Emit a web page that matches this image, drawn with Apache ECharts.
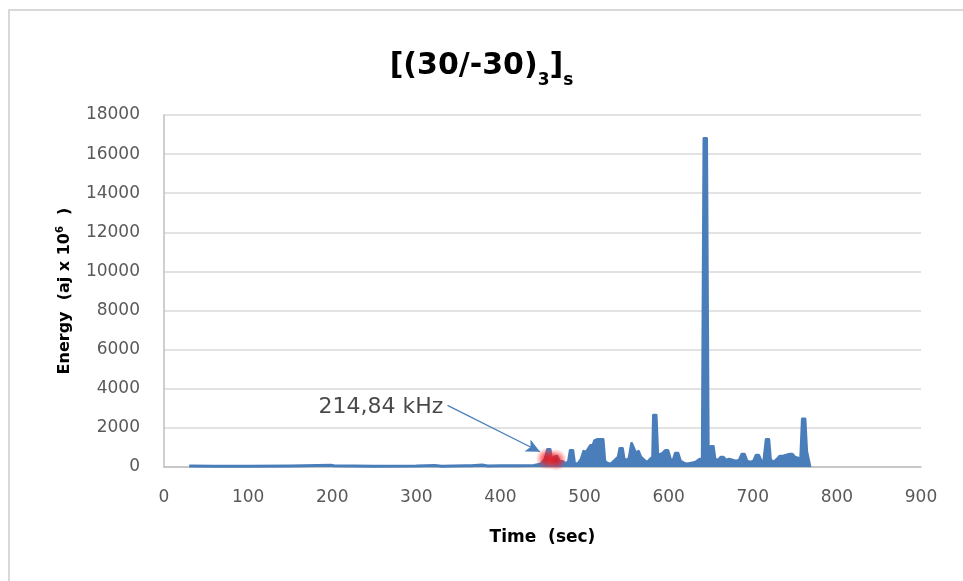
<!DOCTYPE html>
<html>
<head>
<meta charset="utf-8">
<script src="https://cdn.jsdelivr.net/npm/echarts@6/dist/echarts.min.js"></script>
<style>html,body{margin:0;padding:0;background:#fff;}#c{width:963px;height:581px;}</style>
</head>
<body>
<div id="c"></div>
<script>
// Time (sec)
var times = [30,60,100,150,198,202,250,300,322,330,358,365,378,385,400,420,440,448,
  453,456,459,461,464,467,470,474,478,481,483,486,488,492,496,499,502,504,507,510,512,515,519,522,524,527,531,535,540,542,545,547,550,553,556,558,561,564,567,569,572,575,578,581,582,585,587,590,593,596,599,602,605,608,611,614,618,622,627,632,637,640,642,645,647,650,653,655,659,662,665,668,672,676,680,684,687,690,693,697,701,704,707,710,713,716,719,721,725,729,732,736,740,744,747,750,754,757,759,762,764,766,768];
// Energy (aj x 10^6)
var energy = [50,40,40,50,90,60,40,50,80,40,70,60,100,50,60,70,80,150,
  400,900,900,300,500,550,300,280,150,300,850,850,200,150,400,800,750,850,1100,1100,1350,1400,1400,1400,300,200,150,300,500,950,950,400,350,450,1200,1200,700,800,500,600,300,250,400,500,2650,2650,600,650,700,850,850,400,300,700,700,300,200,150,200,250,400,400,16800,16800,900,1050,1050,400,350,500,500,350,400,350,300,350,650,650,300,250,300,600,600,300,250,1400,1400,350,250,400,550,550,600,650,650,500,450,400,2450,2450,800,800,0];
var xTicks = {min:0, max:900, interval:100};
var yTicks = {min:0, max:18000, interval:2000};
var glowPoints = [[455,420],[466,360]];
var annotationText = '214,84 kHz';
var annotationPos = [258,3067];
var arrowStart = [337,3150];
var arrowEnd = [447,780];

var seriesData = times.map(function(t,i){return [t, energy[i]];});

var chart = echarts.init(document.getElementById('c'), null, {renderer:'canvas'});
var tickFont = {fontFamily:'DejaVu Sans', fontSize:17, color:'#595959'};
chart.setOption({
  backgroundColor:'#fff',
  animation:false,
  graphic:[{type:'rect', shape:{x:9,y:10,width:1000,height:620}, style:{fill:'none', stroke:'#d9d9d9', lineWidth:2}, silent:true}],
  title:{
    left:'center', top:36,
    text:'{a|[(30/-30)}{sub|3}{a|]}{sub|s}',
    textStyle:{rich:{
      a:{fontFamily:'DejaVu Sans', fontWeight:'bold', fontSize:30, color:'#000', lineHeight:40, verticalAlign:'bottom'},
      sub:{fontFamily:'DejaVu Sans', fontWeight:'bold', fontSize:17, color:'#000', lineHeight:40, verticalAlign:'bottom', padding:[0,0,-8,0]}
    }}
  },
  grid:{left:164, right:42, top:115, bottom:114},
  xAxis:{
    type:'value', min:xTicks.min, max:xTicks.max, interval:xTicks.interval,
    name:'Time  (sec)', nameLocation:'middle', nameGap:62,
    nameTextStyle:{fontFamily:'DejaVu Sans', fontWeight:'bold', fontSize:17, color:'#000'},
    axisLine:{show:true, lineStyle:{color:'#bfbfbf', width:1.5}},
    axisTick:{show:false},
    splitLine:{show:false},
    axisLabel:Object.assign({margin:22, formatter:function(v){return String(v);}}, tickFont)
  },
  yAxis:{
    type:'value', min:yTicks.min, max:yTicks.max, interval:yTicks.interval,
    name:'{a|Energy  (aj x 10}{sup|6}{a|  )}', nameLocation:'middle', nameGap:89,
    nameTextStyle:{rich:{
      a:{fontFamily:'DejaVu Sans', fontWeight:'bold', fontSize:16, color:'#000', lineHeight:20},
      sup:{fontFamily:'DejaVu Sans', fontWeight:'bold', fontSize:10, color:'#000', verticalAlign:'top', lineHeight:20, padding:[0,0,8,0]}
    }},
    axisLine:{show:true, lineStyle:{color:'#bfbfbf', width:1.5}},
    axisTick:{show:false},
    splitLine:{show:true, lineStyle:{color:'#d9d9d9', width:1.5}},
    axisLabel:Object.assign({margin:24, formatter:function(v){return String(v);}}, tickFont)
  },
  series:[
    {
      type:'line', data:seriesData, showSymbol:false, symbol:'none',
      lineStyle:{color:'#4a7ebb', width:3, join:'round'},
      areaStyle:{color:'#4a7ebb', opacity:1},
      z:3
    },
    {
      type:'scatter', data:glowPoints, symbolSize:22, z:4,
      itemStyle:{color:{type:'radial', x:0.5, y:0.5, r:0.5, colorStops:[
        {offset:0, color:'rgba(255,0,0,1)'},{offset:0.45, color:'rgba(255,20,20,0.7)'},{offset:1, color:'rgba(255,60,60,0)'}]}}
    },
    {
      type:'scatter', data:[annotationPos], symbolSize:0, z:5,
      label:{show:true, position:'inside', formatter:annotationText, fontFamily:'DejaVu Sans', fontSize:22, color:'#1a1a1a'},
      markLine:{
        silent:true, symbol:['none','arrow'], symbolSize:[10,14],
        label:{show:false},
        lineStyle:{color:'#4a7ebb', width:1.2, type:'solid'},
        data:[[{coord:arrowStart},{coord:arrowEnd}]]
      }
    }
  ]
});
</script>
</body>
</html>
